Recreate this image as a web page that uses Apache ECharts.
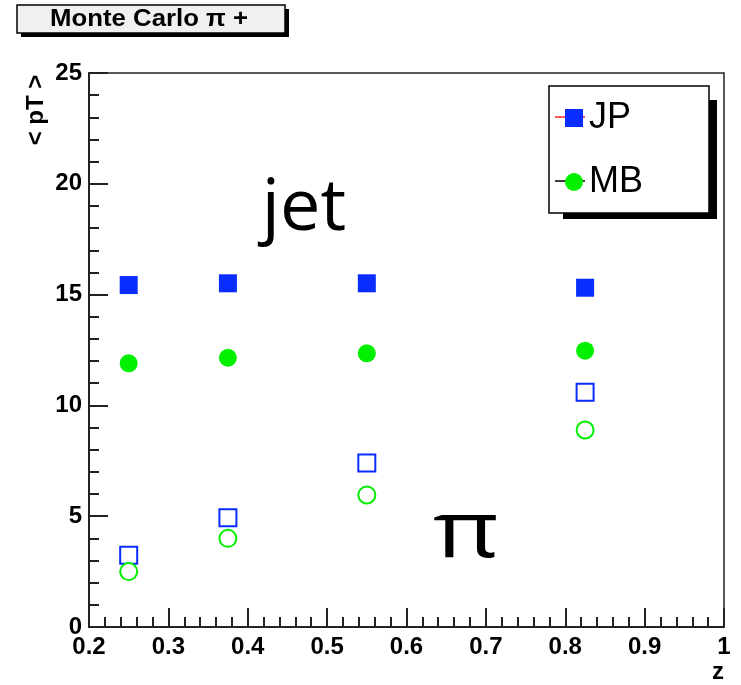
<!DOCTYPE html>
<html>
<head>
<meta charset="utf-8">
<script src="https://cdn.jsdelivr.net/npm/echarts@6/dist/echarts.min.js"></script>
<style>
  html, body { margin: 0; padding: 0; background: #fff; }
  #chart { width: 741px; height: 685px; }
</style>
</head>
<body>
<div id="chart"></div>
<script>
// z bins and <pT> values
const zBins = [0.25, 0.375, 0.55, 0.825];
const jetJP = [15.43, 15.51, 15.51, 15.31];
const jetMB = [11.90, 12.15, 12.35, 12.47];
const piJP = [3.24, 4.93, 7.40, 10.59];
const piMB = [2.50, 4.00, 5.96, 8.89];

const blue = '#0a2dff';
const green = '#00f000';
const font = 'Liberation Sans';

const pairs = ys => zBins.map((z, i) => [z, ys[i]]);

const chart = echarts.init(document.getElementById('chart'));
chart.setOption({
  animation: false,
  backgroundColor: '#fff',
  grid: {
    left: 89, right: 17, top: 73, bottom: 58,
    show: true, borderColor: '#222', borderWidth: 1.5, backgroundColor: 'transparent'
  },
  xAxis: {
    type: 'value', min: 0.2, max: 1, interval: 0.1,
    name: 'z', nameLocation: 'end', nameGap: 0,
    nameTextStyle: { fontFamily: font, fontWeight: 'bold', fontSize: 24, color: '#000', align: 'right', verticalAlign: 'top', padding: [33, 0, 0, 0] },
    axisLine: { lineStyle: { color: '#222', width: 2 } },
    axisTick: { inside: true, length: 19, lineStyle: { color: '#222', width: 2 } },
    minorTick: { show: true, splitNumber: 5, length: 10, lineStyle: { color: '#222', width: 2 } },
    splitLine: { show: false },
    axisLabel: {
      fontFamily: font, fontWeight: 'bold', fontSize: 24, color: '#000', margin: 8,
      formatter: v => (Math.abs(v - 1) < 1e-9 ? '1' : v.toFixed(1))
    }
  },
  yAxis: {
    type: 'value', min: 0, max: 25, interval: 5,
    axisLine: { lineStyle: { color: '#222', width: 2 } },
    axisTick: { inside: true, length: 19, lineStyle: { color: '#222', width: 2 } },
    minorTick: { show: true, splitNumber: 5, length: 10, lineStyle: { color: '#222', width: 2 } },
    splitLine: { show: false },
    axisLabel: { fontFamily: font, fontWeight: 'bold', fontSize: 24, color: '#000', margin: 7 }
  },
  legend: {
    data: ['JP', 'MB'],
    orient: 'vertical', left: 560, top: 93, z: 10,
    itemWidth: 18, itemHeight: 18, itemGap: 24,
    textStyle: { fontFamily: font, fontSize: 36, lineHeight: 40, color: '#000', padding: [0, 0, 0, 1] }
  },
  series: [
    { name: 'JP', type: 'scatter', symbol: 'rect', symbolSize: 18, itemStyle: { color: blue, opacity: 1 }, data: pairs(jetJP) },
    { name: 'MB', type: 'scatter', symbol: 'circle', symbolSize: 18, itemStyle: { color: green, opacity: 1 }, data: pairs(jetMB) },
    { name: 'JP pi', type: 'scatter', symbol: 'emptyRect', symbolSize: 17, itemStyle: { color: blue, borderWidth: 2.5, opacity: 1 }, data: pairs(piJP) },
    { name: 'MB pi', type: 'scatter', symbol: 'emptyCircle', symbolSize: 17, itemStyle: { color: green, borderWidth: 2, opacity: 1 }, data: pairs(piMB) }
  ],
  graphic: [
    // title box
    { type: 'rect', z: 1, shape: { x: 21, y: 9, width: 268, height: 28 }, style: { fill: '#000' } },
    { type: 'rect', z: 2, shape: { x: 17, y: 5, width: 268, height: 28 }, style: { fill: '#f0f0f0', stroke: '#000', lineWidth: 1.5 } },
    { type: 'text', z: 3, x: 149, y: 20, scaleX: 1.12, style: { text: 'Monte Carlo π +', font: 'bold 23px "Liberation Sans"', fill: '#000', textAlign: 'center', textVerticalAlign: 'middle' } },
    // y axis title
    { type: 'text', z: 3, x: 36, y: 110, rotation: Math.PI / 2, style: { text: '< pT >', font: 'bold 24px "Liberation Sans"', fill: '#000', textAlign: 'center', textVerticalAlign: 'middle' } },
    // legend frame
    { type: 'rect', z: 1, shape: { x: 563, y: 100, width: 154, height: 119 }, style: { fill: '#000' } },
    { type: 'rect', z: 2, shape: { x: 549, y: 86, width: 160, height: 127 }, style: { fill: '#fff', stroke: '#000', lineWidth: 1.5 } },
    { type: 'line', z: 3, shape: { x1: 555, y1: 117, x2: 585, y2: 117 }, style: { stroke: '#ff2020', lineWidth: 1.5 } },
    { type: 'line', z: 3, shape: { x1: 555, y1: 181, x2: 585, y2: 181 }, style: { stroke: '#000', lineWidth: 1.5 } },
    // annotations
    { type: 'text', z: 3, x: 304, y: 209, style: { text: 'jet', font: '500 72px "Open Sans"', fill: '#000', textAlign: 'center', textVerticalAlign: 'middle' } },
    { type: 'text', z: 3, x: 466, y: 535, scaleX: 1.3, style: { text: 'π', font: '500 78px "Open Sans"', fill: '#000', textAlign: 'center', textVerticalAlign: 'middle' } }
  ]
});
</script>
</body>
</html>
